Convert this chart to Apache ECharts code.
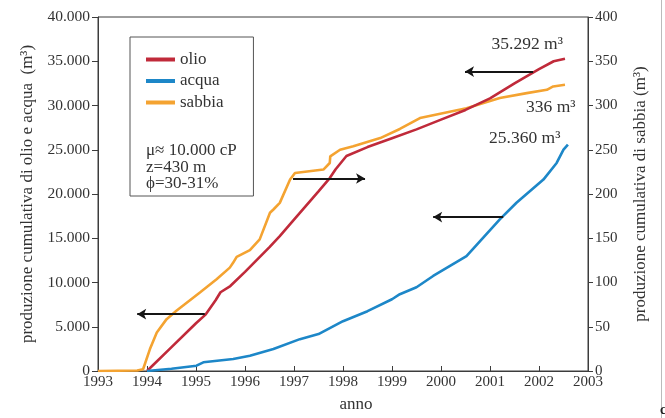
<!DOCTYPE html>
<html><head><meta charset="utf-8">
<script src="https://cdn.jsdelivr.net/npm/echarts@6/dist/echarts.min.js"></script>
<style>html,body{margin:0;padding:0;background:#fff}#c{width:665px;height:418px}</style>
</head><body><div id="c"></div>
<script>
// ---- data ----
const xTicks = [1993,1994,1995,1996,1997,1998,1999,2000,2001,2002,2003];
const oilYears  = [1994,1994.5,1995,1995.2,1995.4,1995.5,1995.7,1996,1996.5,1996.71,1997,1997.5,1997.73,1997.85,1998.07,1998.5,1999,1999.5,2000,2000.5,2001,2001.5,2002,2002.3,2002.53];
const oilValues = [0,2700,5400,6400,8000,8900,9600,11200,14000,15250,17100,20300,21800,22800,24300,25300,26300,27300,28400,29500,30800,32500,34100,35000,35292];
const waterYears  = [1994,1994.5,1995.01,1995.15,1995.76,1996.1,1996.58,1997.12,1997.5,1998,1998.5,1999,1999.16,1999.5,1999.84,2000.52,2001.2,2001.54,2002.09,2002.36,2002.5,2002.59];
const waterValues = [0,250,600,980,1350,1720,2480,3600,4170,5630,6760,8110,8680,9460,10740,12990,17130,19010,21630,23510,25010,25580];
const sandYears  = [1993,1993.8,1993.92,1994.06,1994.2,1994.4,1994.6,1995.08,1995.42,1995.69,1995.76,1995.83,1996.1,1996.3,1996.51,1996.58,1996.71,1996.92,1997.02,1997.6,1997.73,1997.74,1997.94,1998.21,1998.76,1999.16,1999.57,2000.52,2001.2,2001.75,2002.16,2002.29,2002.53];
const sandValues = [0,0.5,2,24.8,43.6,58.6,68,88.7,103.7,116.8,122.5,129,136.5,148.7,178.8,182.5,190,216.3,223.8,227.6,235,242.6,250,253.9,263.2,273.5,285.8,297,308.4,314,317.7,321.5,323.4];
const seriesNames = ['olio','acqua','sabbia'];
const infoLines = ['\u03bc\u2248 10.000 cP','z=430 m','\u03d5=30-31%'];
// arrows: [startYear, endYear, level (left axis)]
const arrows = [[1995.18,1993.8,6420],[1996.98,1998.45,21750],[2001.88,2000.49,33830],[2001.27,1999.84,17390]];
// end annotations: [text, year, level (left axis)]
const notes = [['35.292 m\u00b3',2001.76,36850],['336 m\u00b3',2002.24,29750],['25.360 m\u00b3',2001.71,26250]];

const pair = (xs, ys) => xs.map((x,i)=>[x, ys[i]]);
const FONT = '"Liberation Serif", "DejaVu Serif", serif';
const AX = '#3c3c3c';
const TXT = '#333';
const cOil = '#c02a3a', cWater = '#1d87c8', cSand = '#f4a331';

const chart = echarts.init(document.getElementById('c'), null, {renderer:'canvas'});
const option = {
  animation:false,
  textStyle:{fontFamily:FONT},
  grid:{left:98,right:77,top:17,bottom:46,show:true,borderColor:AX,borderWidth:1,backgroundColor:'transparent'},
  legend:{
    data:seriesNames, orient:'vertical', left:130, top:37,
    padding:[14,30,85,16], itemGap:4.5, itemWidth:29, itemHeight:4, icon:'rect',
    borderColor:'#555', borderWidth:1,
    textStyle:{fontFamily:FONT,fontSize:17,color:TXT}
  },
  xAxis:{
    type:'value', min:1993, max:2003, interval:1,
    name:'anno', nameLocation:'middle', nameGap:25,
    nameTextStyle:{fontFamily:FONT,fontSize:17,color:TXT,padding:[0,0,0,26]},
    axisLine:{show:true,lineStyle:{color:AX,width:1}},
    axisTick:{show:true,inside:true,length:5,lineStyle:{color:AX}},
    axisLabel:{fontFamily:FONT,fontSize:15,color:TXT,margin:4,formatter:v=>String(v)},
    splitLine:{show:false}
  },
  yAxis:[{
    type:'value', min:0, max:40000, interval:5000, position:'left',
    name:'produzione cumulativa di olio e acqua  (m\u00b3)', nameLocation:'middle', nameGap:62,
    nameTextStyle:{fontFamily:FONT,fontSize:17,color:TXT},
    axisLine:{show:true,lineStyle:{color:AX,width:1}},
    axisTick:{show:true,inside:false,length:6,lineStyle:{color:AX}},
    axisLabel:{fontFamily:FONT,fontSize:15.5,color:TXT,margin:8,
      formatter:v=> v===0?'0':(v/1000).toFixed(3)},
    splitLine:{show:false}
  },{
    type:'value', min:0, max:400, interval:50, position:'right',
    name:'produzione cumulativa di sabbia (m\u00b3)', nameLocation:'middle', nameGap:44,
    nameTextStyle:{fontFamily:FONT,fontSize:17,color:TXT},
    axisLine:{show:true,lineStyle:{color:AX,width:1}},
    axisTick:{show:true,inside:false,length:5,lineStyle:{color:AX}},
    axisLabel:{fontFamily:FONT,fontSize:15,color:TXT,margin:7},
    splitLine:{show:false}
  }],
  series:[
    {name:'sabbia',type:'line',yAxisIndex:1,data:pair(sandYears,sandValues),showSymbol:false,
      itemStyle:{color:cSand},lineStyle:{width:2.6,color:cSand},z:2},
    {name:'olio',type:'line',yAxisIndex:0,data:pair(oilYears,oilValues),showSymbol:false,
      itemStyle:{color:cOil},lineStyle:{width:2.6,color:cOil},z:3,
      markLine:{silent:true,symbol:['none','arrow'],symbolSize:[8,9],precision:3,
        lineStyle:{color:'#151515',width:2,type:'solid'},label:{show:false},
        emphasis:{disabled:true},
        data:arrows.map(a=>[{coord:[a[0],a[2]]},{coord:[a[1],a[2]]}])}},
    {name:'acqua',type:'line',yAxisIndex:0,data:pair(waterYears,waterValues),showSymbol:false,
      itemStyle:{color:cWater},lineStyle:{width:2.6,color:cWater},z:3}
  ]
};
chart.setOption(option);
const g = [];
notes.forEach(n=>{
  const p = chart.convertToPixel({xAxisIndex:0,yAxisIndex:0},[n[1],n[2]]);
  g.push({type:'text',x:p[0],y:p[1],style:{text:n[0],font:'17.5px '+FONT,fill:TXT,align:'center',verticalAlign:'middle'}});
});
infoLines.forEach((t,i)=>{
  g.push({type:'text',x:146,y:151+i*16.5,style:{text:t,font:'17px '+FONT,fill:TXT,align:'left',verticalAlign:'middle'}});
});
g.push({type:'line',shape:{x1:661.5,y1:0,x2:661.5,y2:418},style:{stroke:'#bbb',lineWidth:1}});
g.push({type:'text',x:660,y:410,style:{text:'c',font:'bold 14px '+FONT,fill:'#222',align:'left',verticalAlign:'middle'}});
chart.setOption({graphic:g});
</script></body></html>
